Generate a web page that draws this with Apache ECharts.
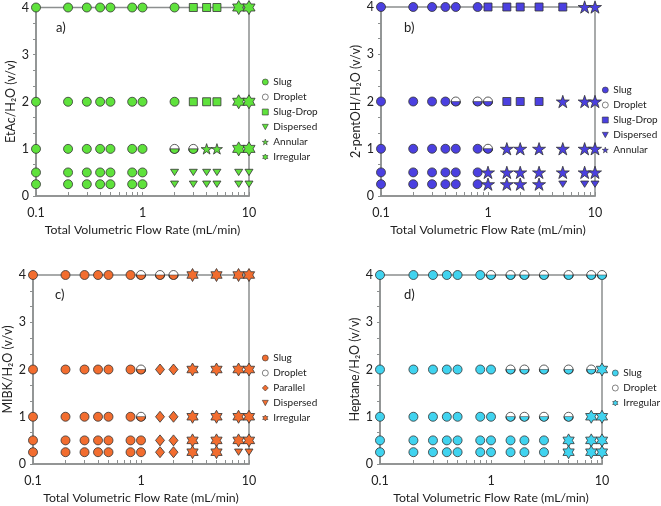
<!DOCTYPE html>
<html><head><meta charset="utf-8">
<script src="https://cdn.jsdelivr.net/npm/echarts@6/dist/echarts.min.js"></script>
<style>html,body{margin:0;padding:0;background:#fff}#c{width:661px;height:506px}</style>
</head><body><div id="c"></div>
<script>
// ---- data ----
const flowsA = [0.1, 0.2, 0.3, 0.4, 0.5, 0.8, 1, 2, 3, 4, 5, 8, 10];
const flowsB = [0.1, 0.2, 0.3, 0.4, 0.5, 0.8, 1, 1.5, 2, 3, 5, 8, 10];
const flowsC = [0.1, 0.2, 0.3, 0.4, 0.5, 0.8, 1, 1.5, 2, 3, 5, 8, 10];
const flowsD = [0.1, 0.2, 0.3, 0.4, 0.5, 0.8, 1, 1.5, 2, 3, 5, 8, 10];
const ratios = [4, 2, 1, 0.5, 0.25];
// regime codes: S Slug, D Droplet, Q Slug-Drop, P Dispersed, A Annular, I Irregular, L Parallel
const rowsA = ['SSSSSSSSQQQII', 'SSSSSSSSQQQII', 'SSSSSSSDDAAII', 'SSSSSSSPPPPPP', 'SSSSSSSPPPPPP'];
const rowsB = ['SSSSSSQQQQQAA', 'SSSSDDDQQQAAA', 'SSSSSSDAAAAAA', 'SSSSSSAAAAAAA', 'SSSSSSAAAAPPP'];
const rowsC = ['SSSSSSDDDIIII', 'SSSSSSDLLIIII', 'SSSSSSDLLIIII', 'SSSSSSSLLIIII', 'SSSSSSSLLIIPP'];
const rowsD = ['SSSSSSDDDDDDD', 'SSSSSSSDDDDDI', 'SSSSSSSDDDDII', 'SSSSSSSSSSIII', 'SSSSSSSSSSIII'];
const legendA = ['S', 'D', 'Q', 'P', 'A', 'I'];
const legendB = ['S', 'D', 'Q', 'P', 'A'];
const legendC = ['S', 'D', 'L', 'P', 'I'];
const legendD = ['S', 'D', 'I'];
const regimeNames = {S: 'Slug', D: 'Droplet', Q: 'Slug-Drop', P: 'Dispersed', A: 'Annular', I: 'Irregular', L: 'Parallel'};
const xTickValues = [0.1, 0.2, 0.3, 0.4, 0.5, 0.6, 0.7, 0.8, 0.9, 1, 2, 3, 4, 5, 6, 7, 8, 9, 10];
const yTitles = ['EtAc/H₂O (v/v)', '2-pentOH/H₂O (v/v)', 'MIBK/H₂O (v/v)', 'Heptane/H₂O (v/v)'];
const panelLabels = ['a)', 'b)', 'c)', 'd)'];
const xTitle = 'Total Volumetric Flow Rate (mL/min)';

// ---- styling ----
const FONT = 'Lato';
const AX = '#8c8f8f';
const BORDER = '#333';
const STAR = 'path://M50,0L61.23,34.55L97.55,34.55L68.17,55.9L79.39,90.45L50,69.1L20.61,90.45L31.83,55.9L2.45,34.55L38.77,34.55Z';
const HEX = 'path://M50,0L64.43,25L93.3,25L78.87,50L93.3,75L64.43,75L50,100L35.57,75L6.7,75L21.13,50L6.7,25L35.57,25Z';
const HALF = 'path://M0,0A10,10 0 0 0 20,0Z';

const panels = [
  {flows: flowsA, rows: rowsA, legend: legendA, color: '#5fe23c', grid: {left: 36, top: 7.5, width: 213, height: 188.5},
   legendPos: {left: 262, top: 75.5}, label: [56, 29], starSize: 11, hexSize: 14},
  {flows: flowsB, rows: rowsB, legend: legendB, color: '#4b40e0', grid: {left: 381, top: 7, width: 214, height: 189},
   legendPos: {left: 602, top: 83.5}, label: [404, 29], starSize: 13, hexSize: 14},
  {flows: flowsC, rows: rowsC, legend: legendC, color: '#f26d2f', grid: {left: 33, top: 275, width: 216, height: 189},
   legendPos: {left: 262, top: 351.5}, label: [55, 296], starSize: 12, hexSize: 13},
  {flows: flowsD, rows: rowsD, legend: legendD, color: '#40d3ef', grid: {left: 380, top: 275, width: 222, height: 189},
   legendPos: {left: 612, top: 366.5}, label: [404, 296], starSize: 12, hexSize: 13}
];

function symFor(code, p) {
  switch (code) {
    case 'S': return {symbol: 'circle', symbolSize: 9};
    case 'D': return {symbol: 'circle', symbolSize: 9};
    case 'Q': return {symbol: 'rect', symbolSize: 8};
    case 'P': return {symbol: 'path://M0,0L10,0L5,9Z', symbolSize: [8, 7]};
    case 'A': return {symbol: STAR, symbolSize: p.starSize};
    case 'I': return {symbol: HEX, symbolSize: p.hexSize};
    case 'L': return {symbol: 'diamond', symbolSize: [9, 11]};
  }
}

const grids = [], xAxes = [], yAxes = [], series = [], legends = [], graphics = [];
panels.forEach((p, i) => {
  grids.push(Object.assign({show: true, borderColor: AX, borderWidth: 1.5, backgroundColor: 'transparent'}, p.grid));
  xAxes.push({
    type: 'log', logBase: 10, min: 0.1, max: 10, gridIndex: i,
    name: xTitle, nameLocation: 'middle', nameGap: 28,
    nameTextStyle: {fontFamily: FONT, fontSize: 12.3, color: '#222'},
    axisLine: {lineStyle: {color: AX, width: 1.5}},
    axisTick: {show: true, inside: true, length: 4, customValues: xTickValues, lineStyle: {color: AX}},
    axisLabel: {fontFamily: FONT, fontSize: 12.5, color: '#222', margin: 10,
      formatter: v => (Math.abs(v - 0.1) < 1e-9 ? '0.1' : String(Math.round(v)))},
    splitLine: {show: false}, minorTick: {show: false}
  });
  yAxes.push({
    type: 'value', min: 0, max: 4, interval: 1, gridIndex: i,
    name: yTitles[i], nameLocation: 'middle', nameGap: 19,
    nameTextStyle: {fontFamily: FONT, fontSize: 12.5, color: '#222'},
    axisLine: {show: true, lineStyle: {color: AX, width: 1.5}},
    axisTick: {show: true, inside: false, length: 3, lineStyle: {color: AX}},
    minorTick: {show: true, splitNumber: 3, length: 3, lineStyle: {color: AX}},
    axisLabel: {fontFamily: FONT, fontSize: 12.5, color: '#222', margin: 7},
    splitLine: {show: false}, minorSplitLine: {show: false}
  });
  const tag = 'abcd'[i] + ':';
  p.legend.forEach(code => {
    const data = [];
    p.rows.forEach((row, r) => {
      for (let k = 0; k < row.length; k++) if (row[k] === code) data.push([p.flows[k], ratios[r]]);
    });
    const s = symFor(code, p);
    series.push(Object.assign({
      type: 'scatter', name: tag + regimeNames[code], xAxisIndex: i, yAxisIndex: i,
      data: data, clip: false, symbolKeepAspect: true,
      itemStyle: {color: code === 'D' ? '#ffffff' : p.color, borderColor: BORDER, borderWidth: 0.8, opacity: 1},
      emphasis: {disabled: true}, z: 3
    }, s));
    if (code === 'D') {
      series.push({
        type: 'scatter', name: tag + 'Droplet-half', xAxisIndex: i, yAxisIndex: i,
        data: data, clip: false, symbol: HALF, symbolSize: [9, 4.5], symbolOffset: [0, 2.25],
        itemStyle: {color: p.color, borderColor: BORDER, borderWidth: 0.8, opacity: 1},
        emphasis: {disabled: true}, z: 4, silent: true
      });
    }
  });
  legends.push(Object.assign({
    orient: 'vertical', data: p.legend.map(c => tag + regimeNames[c]),
    itemWidth: 6, itemHeight: 6, itemGap: 2, padding: 0, selectedMode: false,
    itemStyle: {borderWidth: 0.6},
    formatter: n => n.split(':')[1],
    textStyle: {fontFamily: FONT, fontSize: 10, color: '#222', lineHeight: 13}
  }, p.legendPos));
  graphics.push({type: 'text', left: p.label[0], top: p.label[1] - 8,
    style: {text: panelLabels[i], font: '13px ' + FONT, fill: '#222'}});
});

const chart = echarts.init(document.getElementById('c'), null, {renderer: 'canvas', width: 661, height: 506});
chart.setOption({
  animation: false, backgroundColor: '#fff',
  grid: grids, xAxis: xAxes, yAxis: yAxes, series: series, legend: legends, graphic: graphics
});
</script></body></html>
